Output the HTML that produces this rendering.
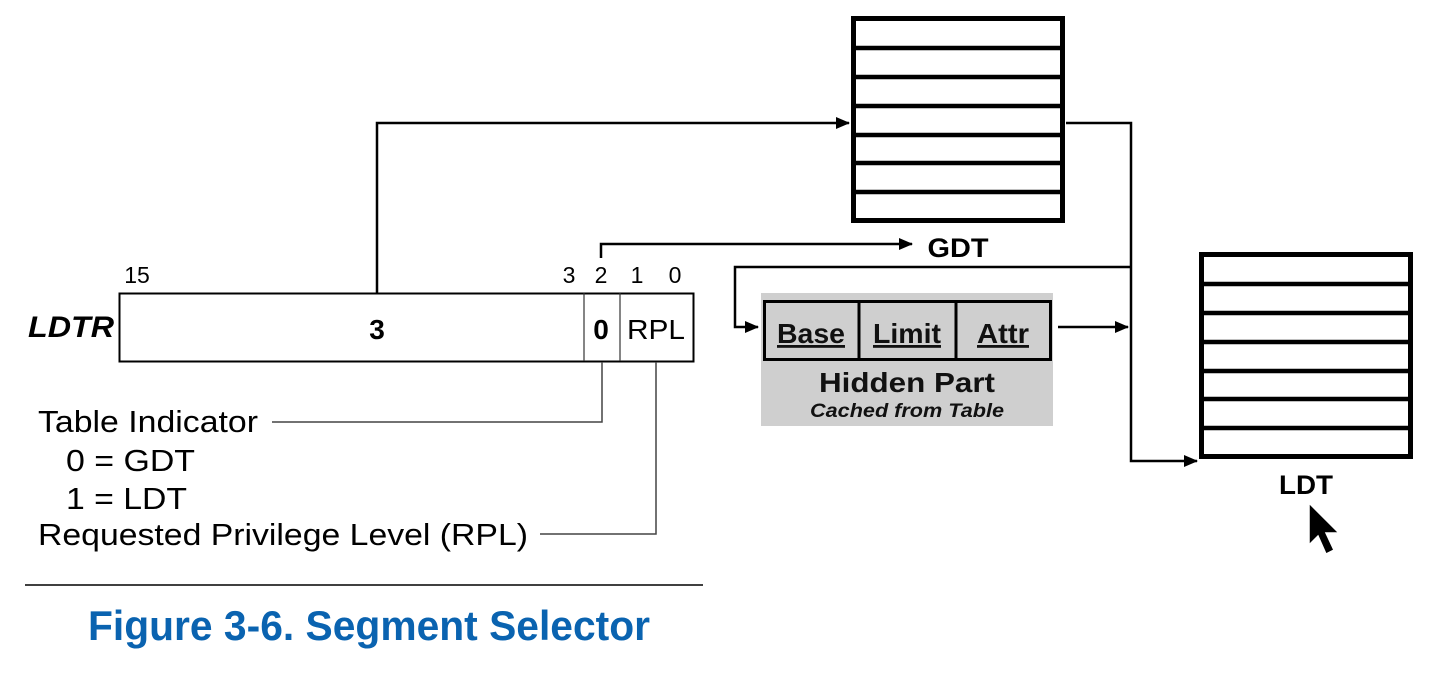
<!DOCTYPE html>
<html><head><meta charset="utf-8"><style>
html,body{margin:0;padding:0;background:#fff;}
svg{display:block;}
text{font-family:"Liberation Sans",sans-serif;}
</style></head><body>
<svg width="1430" height="685" viewBox="0 0 1430 685" xmlns="http://www.w3.org/2000/svg">
<defs>
<marker id="a" markerWidth="14" markerHeight="12" refX="13" refY="6" orient="auto" markerUnits="userSpaceOnUse">
<path d="M0,0 L14,6 L0,12 z" fill="#000"/></marker>
</defs>
<!-- GDT table -->
<rect x="853.5" y="18.5" width="209" height="202" fill="#fff" stroke="#000" stroke-width="5"/>
<g stroke="#000" stroke-width="4.5">
<line x1="853" y1="48" x2="1063" y2="48"/><line x1="853" y1="77" x2="1063" y2="77"/>
<line x1="853" y1="106" x2="1063" y2="106"/><line x1="853" y1="135" x2="1063" y2="135"/>
<line x1="853" y1="163" x2="1063" y2="163"/><line x1="853" y1="192" x2="1063" y2="192"/>
</g>
<!-- LDT table -->
<rect x="1201.5" y="254.5" width="209" height="202" fill="#fff" stroke="#000" stroke-width="5"/>
<g stroke="#000" stroke-width="4.5">
<line x1="1201" y1="284" x2="1411" y2="284"/><line x1="1201" y1="313" x2="1411" y2="313"/>
<line x1="1201" y1="342" x2="1411" y2="342"/><line x1="1201" y1="371" x2="1411" y2="371"/>
<line x1="1201" y1="399" x2="1411" y2="399"/><line x1="1201" y1="428" x2="1411" y2="428"/>
</g>
<text x="1306" y="494" font-size="27" font-weight="bold" text-anchor="middle" textLength="54" lengthAdjust="spacingAndGlyphs">LDT</text>
<text x="958" y="257" font-size="27" font-weight="bold" text-anchor="middle" textLength="61" lengthAdjust="spacingAndGlyphs">GDT</text>
<!-- connectors -->
<g fill="none" stroke="#000" stroke-width="2.5">
<polyline points="377,293 377,123 849,123" marker-end="url(#a)"/>
<polyline points="601,258 601,244 912,244" marker-end="url(#a)"/>
<polyline points="1066,123 1131,123 1131,461 1197,461" marker-end="url(#a)"/>
<polyline points="1131,267 735,267 735,327 758,327" marker-end="url(#a)"/>
<line x1="1058" y1="327" x2="1128" y2="327" marker-end="url(#a)"/>
</g>
<!-- hidden part -->
<rect x="761" y="293" width="292" height="133" fill="#cfcfcf"/>
<rect x="764.5" y="301.5" width="286" height="58" fill="#cfcfcf" stroke="#000" stroke-width="3"/>
<line x1="859" y1="301" x2="859" y2="360" stroke="#000" stroke-width="3"/>
<line x1="956" y1="301" x2="956" y2="360" stroke="#000" stroke-width="3"/>
<text x="811" y="343" font-size="28" text-anchor="middle" text-decoration="underline" font-weight="bold" fill="#111" textLength="68" lengthAdjust="spacingAndGlyphs">Base</text>
<text x="907" y="343" font-size="28" text-anchor="middle" text-decoration="underline" font-weight="bold" fill="#111" textLength="68" lengthAdjust="spacingAndGlyphs">Limit</text>
<text x="1003" y="343" font-size="28" text-anchor="middle" text-decoration="underline" font-weight="bold" fill="#111" textLength="52" lengthAdjust="spacingAndGlyphs">Attr</text>
<text x="907" y="392" font-size="28" font-weight="bold" text-anchor="middle" fill="#111" textLength="176" lengthAdjust="spacingAndGlyphs">Hidden Part</text>
<text x="907" y="417" font-size="19" font-weight="bold" text-anchor="middle" font-style="italic" fill="#111" textLength="194" lengthAdjust="spacingAndGlyphs">Cached from Table</text>
<!-- LDTR register -->
<rect x="119.5" y="293.5" width="574" height="68" fill="#fff" stroke="#000" stroke-width="2"/>
<line x1="584" y1="293" x2="584" y2="361" stroke="#333" stroke-width="1.2"/>
<line x1="620" y1="293" x2="620" y2="361" stroke="#333" stroke-width="1.2"/>
<text x="28" y="337" font-size="30" font-weight="bold" font-style="italic" textLength="86" lengthAdjust="spacingAndGlyphs">LDTR</text>
<text x="377" y="339" font-size="28" font-weight="bold" text-anchor="middle">3</text>
<text x="601" y="339" font-size="28" font-weight="bold" text-anchor="middle">0</text>
<text x="656" y="339" font-size="28" text-anchor="middle" textLength="58" lengthAdjust="spacingAndGlyphs">RPL</text>
<g font-size="23" text-anchor="middle">
<text x="137" y="283">15</text><text x="569" y="283">3</text><text x="601" y="283">2</text>
<text x="637" y="283">1</text><text x="675" y="283">0</text>
</g>
<g fill="none" stroke="#444" stroke-width="1.5">
<polyline points="602,362 602,422 272,422"/>
<polyline points="656,362 656,534 540,534"/>
</g>
<g font-size="31" lengthAdjust="spacingAndGlyphs">
<text x="38" y="432" textLength="220" lengthAdjust="spacingAndGlyphs">Table Indicator</text>
<text x="66" y="471" textLength="129" lengthAdjust="spacingAndGlyphs">0 = GDT</text>
<text x="66" y="509" textLength="121" lengthAdjust="spacingAndGlyphs">1 = LDT</text>
<text x="38" y="545" textLength="490" lengthAdjust="spacingAndGlyphs">Requested Privilege Level (RPL)</text>
</g>
<line x1="25" y1="585" x2="703" y2="585" stroke="#000" stroke-width="1.5"/>
<text x="88" y="640" font-size="42" font-weight="bold" fill="#0a63b0" textLength="562" lengthAdjust="spacingAndGlyphs">Figure 3-6.  Segment Selector</text>
<!-- cursor -->
<path d="M1309,503 L1309,545 L1318,536 L1326,554 L1334,550 L1326,533 L1339,533 Z" fill="#000" stroke="#fff" stroke-width="1.5"/>
</svg>
</body></html>
